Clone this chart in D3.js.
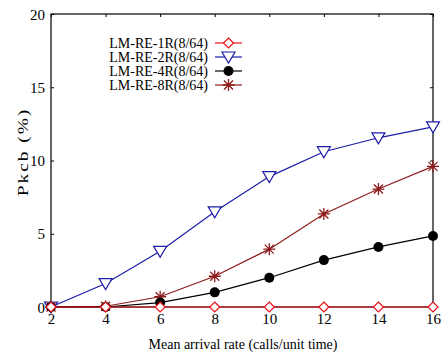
<!DOCTYPE html>
<html>
<head>
<meta charset="utf-8">
<script src="https://cdn.jsdelivr.net/npm/d3@7"></script>
<style>
  html, body { margin: 0; padding: 0; background: #fff; }
</style>
</head>
<body>
<svg id="chart" width="445" height="356"></svg>
<script>
// Arrival rates (calls/unit time)
const rates = [2, 4, 6, 8, 10, 12, 14, 16];

// Pkcb (%) for each scheme
const re1R = [0, 0, 0, 0, 0, 0, 0, 0];
const re2R = [0, 1.6, 3.8, 6.5, 8.9, 10.6, 11.55, 12.3];
const re4R = [0, 0, 0.3, 1.0, 2.0, 3.2, 4.1, 4.85];
const re8R = [0, 0.05, 0.7, 2.1, 3.95, 6.35, 8.05, 9.6];

const seriesNames = ["LM-RE-1R(8/64)", "LM-RE-2R(8/64)", "LM-RE-4R(8/64)", "LM-RE-8R(8/64)"];
const xTicks = [2, 4, 6, 8, 10, 12, 14, 16];
const yTicks = [0, 5, 10, 15, 20];

const series = [
  { name: seriesNames[0], values: re1R, color: "#e8141a", marker: "diamond" },
  { name: seriesNames[1], values: re2R, color: "#1c1ca8", marker: "triangle" },
  { name: seriesNames[2], values: re4R, color: "#000000", marker: "circle" },
  { name: seriesNames[3], values: re8R, color: "#8e1b1b", marker: "star" }
];

const FONT = "'Liberation Serif', 'Times New Roman', Tinos, 'DejaVu Serif', serif";

const svg = d3.select("#chart").attr("font-family", FONT);
const m = { left: 51, right: 433, top: 14, bottom: 307 };

const x = d3.scaleLinear().domain([2, 16]).range([m.left, m.right]);
const y = d3.scaleLinear().domain([0, 20]).range([m.bottom, m.top]);

// Frame
svg.append("rect")
  .attr("x", m.left).attr("y", m.top)
  .attr("width", m.right - m.left).attr("height", m.bottom - m.top)
  .attr("fill", "none").attr("stroke", "#000").attr("stroke-width", 1.2);

// Axes with inward ticks
const xAxis = svg.append("g").attr("transform", `translate(0,${m.bottom})`)
  .call(d3.axisBottom(x).tickValues(xTicks).tickSize(-3).tickPadding(6).tickFormat(d3.format("d")));
const xAxisTop = svg.append("g").attr("transform", `translate(0,${m.top})`)
  .call(d3.axisTop(x).tickValues(xTicks).tickSize(-3).tickFormat(""));
const yAxis = svg.append("g").attr("transform", `translate(${m.left},0)`)
  .call(d3.axisLeft(y).tickValues(yTicks).tickSize(-3).tickPadding(6).tickFormat(d3.format("d")));
const yAxisRight = svg.append("g").attr("transform", `translate(${m.right},0)`)
  .call(d3.axisRight(y).tickValues(yTicks).tickSize(-3).tickFormat(""));

[xAxis, xAxisTop, yAxis, yAxisRight].forEach(g => {
  g.attr("font-family", FONT);
  g.select(".domain").remove();
  g.selectAll("line").attr("stroke", "#000");
  g.selectAll("text").attr("font-size", 15).attr("fill", "#000");
});
yAxis.selectAll("text").attr("dy", "0.34em");

// Axis titles
svg.append("text")
  .attr("x", 243).attr("y", 349)
  .attr("text-anchor", "middle").attr("font-size", 14)
  .text("Mean arrival rate (calls/unit time)");

svg.append("text")
  .attr("transform", "translate(28,152) rotate(-90) scale(1.3,1)")
  .attr("text-anchor", "middle").attr("font-size", 15)
  .attr("letter-spacing", 1.5)
  .text("Pkcb (%)");

// Marker drawing
function drawMarker(g, type, color) {
  if (type === "diamond") {
    g.append("path").attr("d", "M0,-5L5,0L0,5L-5,0Z")
      .attr("fill", "#fff").attr("stroke", color).attr("stroke-width", 1.2);
  } else if (type === "triangle") {
    g.append("path").attr("d", "M-6.5,-5L6.5,-5L0,6Z")
      .attr("fill", "#fff").attr("stroke", color).attr("stroke-width", 1.2);
  } else if (type === "circle") {
    g.append("circle").attr("r", 5).attr("fill", color);
  } else if (type === "star") {
    const s = 6;
    g.append("path")
      .attr("d", `M${-s},0L${s},0M0,${-s}L0,${s}M${-s*0.75},${-s*0.75}L${s*0.75},${s*0.75}M${-s*0.75},${s*0.75}L${s*0.75},${-s*0.75}`)
      .attr("stroke", color).attr("stroke-width", 1.3).attr("fill", "none");
  }
}

const line = d3.line().x(d => x(d[0])).y(d => y(d[1]));

// Draw series; 1R goes last so its line sits on top along zero
const drawOrder = [1, 3, 2, 0];
drawOrder.forEach(i => {
  const s = series[i];
  const pts = rates.map((r, k) => [r, s.values[k]]);
  svg.append("path").datum(pts).attr("d", line)
    .attr("fill", "none").attr("stroke", s.color).attr("stroke-width", 1.2);
  pts.forEach(p => {
    const g = svg.append("g").attr("transform", `translate(${x(p[0])},${y(p[1])})`);
    drawMarker(g, s.marker, s.color);
  });
});

// Legend
const legendY = [43, 57, 71, 85];
series.forEach((s, i) => {
  const ly = legendY[i];
  svg.append("text")
    .attr("x", 208).attr("y", ly).attr("dy", "0.33em")
    .attr("text-anchor", "end").attr("font-size", 14)
    .text(s.name);
  svg.append("line")
    .attr("x1", 215).attr("x2", 242).attr("y1", ly).attr("y2", ly)
    .attr("stroke", s.color).attr("stroke-width", 1.2);
  const g = svg.append("g").attr("transform", `translate(228.5,${ly})`);
  drawMarker(g, s.marker, s.color);
});
</script>
</body>
</html>
